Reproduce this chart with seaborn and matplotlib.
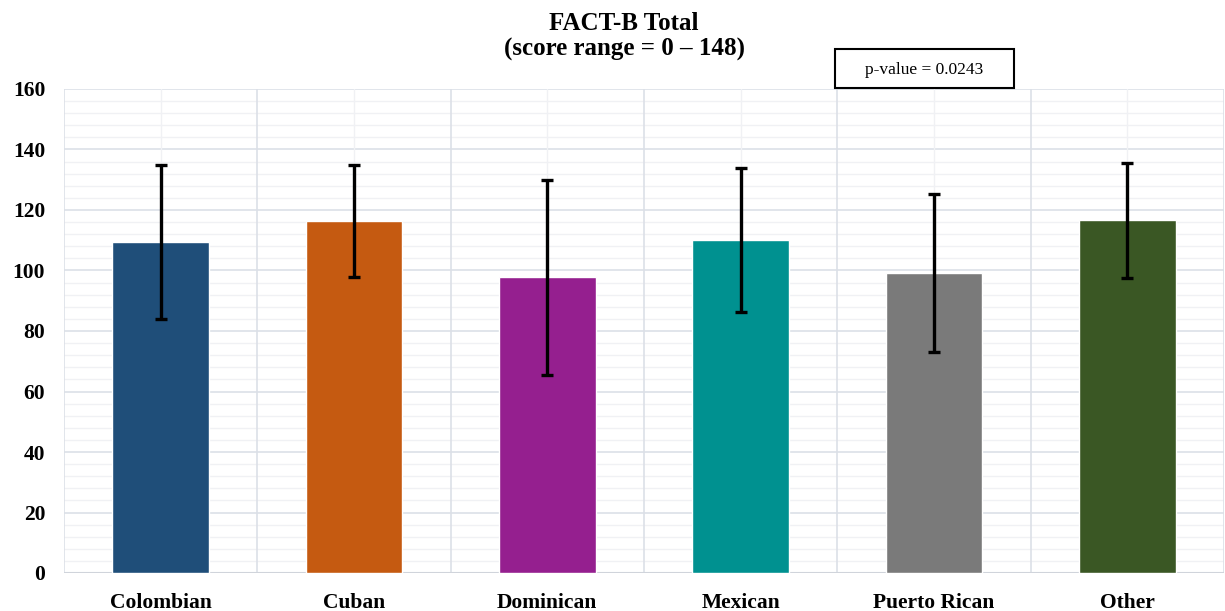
import matplotlib
matplotlib.use("Agg")
import matplotlib.pyplot as plt
from matplotlib.patches import Rectangle
import seaborn as sns
import pandas as pd
import numpy as np

# FACT-B total score by Hispanic heritage group (mean ± SD)
groups = ["Colombian", "Cuban", "Dominican", "Mexican", "Puerto Rican", "Other"]
means = [109.5, 116.4, 97.7, 110.1, 99.2, 116.6]
sds = [25.5, 18.4, 32.2, 23.8, 26.1, 19.0]
colors = ["#1F4E79", "#C55A11", "#951F8F", "#009190", "#7A7A7A", "#3A5724"]
yticks = [0, 20, 40, 60, 80, 100, 120, 140, 160]
p_label = "p-value = 0.0243"

sns.set_theme(style="white")
plt.rcParams["font.family"] = ["Liberation Serif", "DejaVu Serif"]
plt.rcParams["text.color"] = "black"
plt.rcParams["xtick.color"] = "black"
plt.rcParams["ytick.color"] = "black"

df = pd.DataFrame({"group": groups, "mean": means, "sd": sds})

W, H = 1225, 611
fig = plt.figure(figsize=(W / 100, H / 100), dpi=100)
ax = fig.add_axes([64 / W, 1 - 573 / H, (1224 - 64) / W, (573 - 89) / H])

sns.barplot(data=df, x="group", y="mean", hue="group", palette=colors,
            width=0.5, legend=False, ax=ax, zorder=2, saturation=1)

ax.errorbar(np.arange(len(groups)), means, yerr=sds, fmt="none",
            ecolor="black", elinewidth=2.4, capsize=4.5, capthick=2.4, zorder=3)

ax.set_ylim(0, 160)
ax.set_xlim(-0.5, len(groups) - 0.5)

# Gridlines: category separators plus faint minor lines
ax.grid(False)
for y in yticks:
    ax.axhline(y, color="#DCE0E7", lw=1.2, zorder=0)
for y in np.arange(0, 161, 4):
    if y % 20:
        ax.axhline(y, color="#F0F1F4", lw=1.0, zorder=0)
for x in np.arange(-0.5, len(groups), 1.0):
    ax.axvline(x, color="#DCE0E7", lw=1.2, zorder=0)
for x in np.arange(len(groups)):
    ax.axvline(x, color="#F0F1F4", lw=1.0, zorder=0)

for s in ax.spines.values():
    s.set_visible(False)
ax.axhline(0, color="#D0D4DB", lw=1.5, zorder=1)

ax.set_xlabel("")
ax.set_ylabel("")
ax.set_xticks(np.arange(len(groups)))
ax.set_xticklabels(groups, fontsize=15.5, fontweight="bold")
ax.set_yticks(yticks)
ax.set_yticklabels([str(v) for v in yticks], fontsize=15.5, fontweight="bold")
ax.tick_params(axis="both", which="both", length=0)
ax.tick_params(axis="x", pad=14.5)
ax.tick_params(axis="y", pad=13.5)

title_x = 624 / W
fig.text(title_x, 1 - 23 / H, "FACT-B Total", ha="center", va="center",
         fontsize=18, fontweight="bold")
fig.text(title_x, 1 - 49 / H, "(score range = 0 \u2013 148)", ha="center", va="center",
         fontsize=18, fontweight="bold")

# p-value annotation box
fig.add_artist(Rectangle((835 / W, 1 - 88 / H), (1014 - 835) / W, (88 - 49) / H,
                         transform=fig.transFigure, facecolor="white",
                         edgecolor="black", lw=1.5, zorder=5))
fig.text((835 + 1014) / 2 / W, 1 - 70 / H, p_label, ha="center", va="center",
         fontsize=12.5, zorder=6)

fig.savefig("out.png", dpi=100)
